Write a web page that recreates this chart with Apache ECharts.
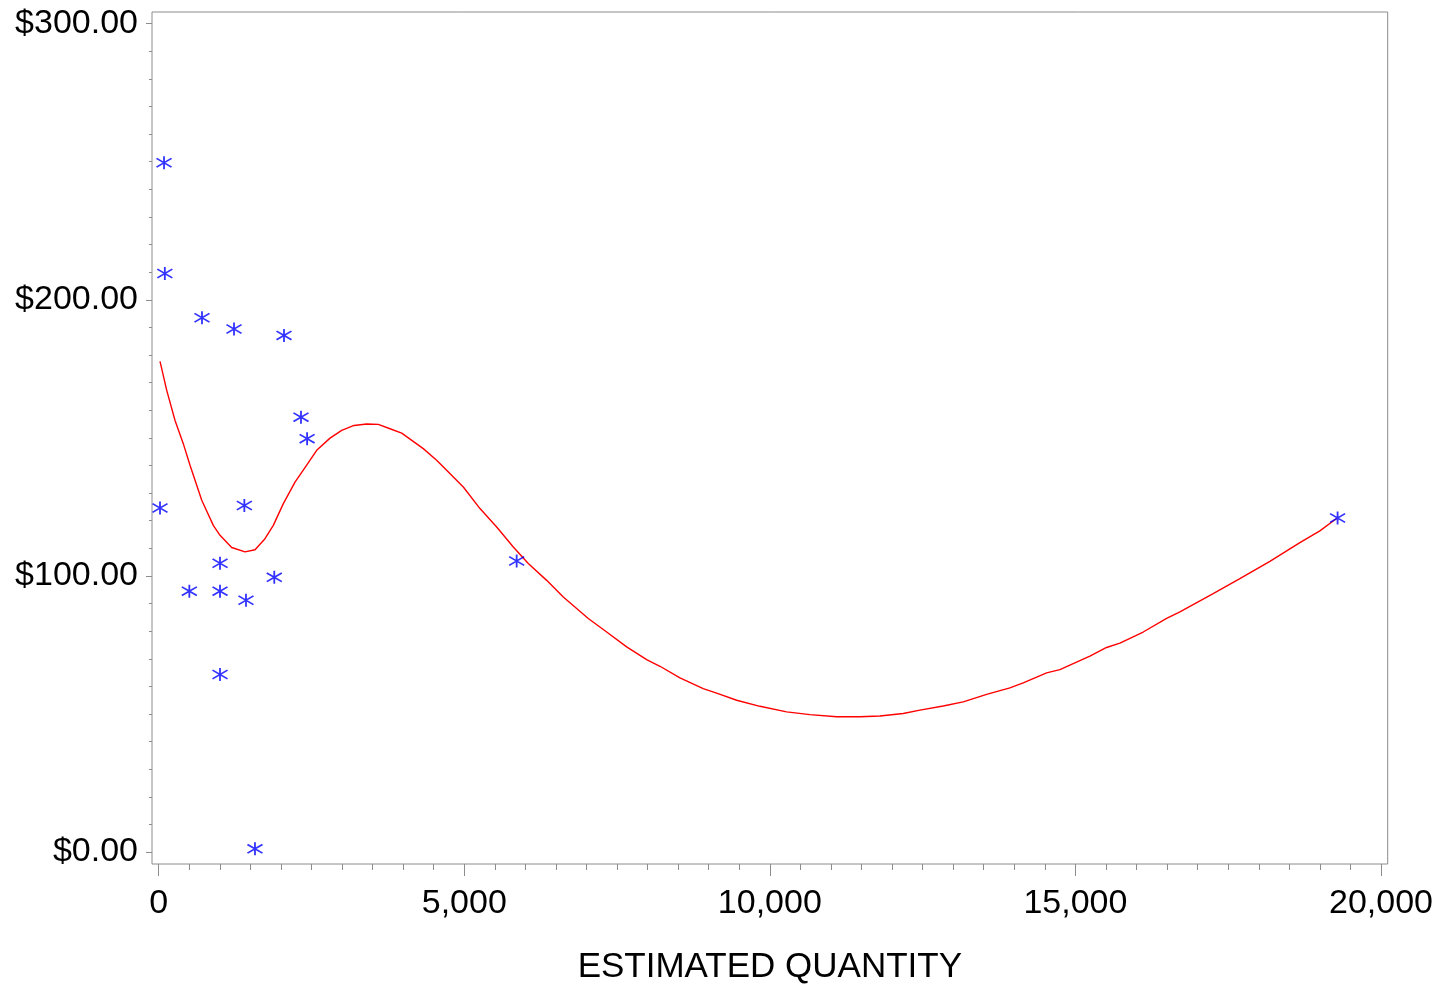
<!DOCTYPE html>
<html>
<head>
<meta charset="utf-8">
<script src="https://cdn.jsdelivr.net/npm/echarts@6/dist/echarts.min.js"></script>
<style>
html,body{margin:0;padding:0;background:#fff;}
#chart{width:1449px;height:984px;}
</style>
</head>
<body>
<div id="chart"></div>
<script>
// Observed points: estimated quantity vs unit price
const pointQty = [87, 100, 708, 1232, 2050, 2328, 2428, 21, 1401, 1003, 501, 1003, 1428, 1891, 1003, 1575, 5857, 19290];
const pointPrice = [249.6, 209.5, 193.5, 189.4, 187.1, 157.5, 149.7, 124.6, 125.5, 104.6, 94.5, 94.5, 91.2, 99.5, 64.3, 1.2, 105.4, 121.0];

// Fitted curve
const curveQty = [21, 131, 267, 402, 512, 704, 893, 1003, 1194, 1412, 1576, 1739, 1875, 2039, 2230, 2421, 2585, 2803, 2994, 3195, 3403, 3593, 3784, 3976, 4329, 4548, 4984, 5257, 5530, 5802, 6047, 6348, 6620, 7029, 7330, 7657, 7984, 8202, 8529, 8910, 9129, 9457, 9838, 10275, 10656, 11093, 11474, 11801, 12182, 12456, 12837, 13164, 13547, 13928, 14146, 14529, 14746, 15237, 15510, 15728, 16109, 16492, 16710, 17254, 17691, 18182, 18673, 19000, 19273];
const curvePrice = [177.7, 167.2, 156.3, 147.9, 140.1, 127.4, 118.3, 114.7, 110.3, 108.7, 109.5, 113.5, 118.3, 126.2, 134.0, 140.1, 145.5, 149.9, 152.7, 154.5, 155.0, 154.9, 153.3, 151.7, 146.1, 141.9, 132.2, 124.4, 117.7, 110.5, 104.5, 98.4, 92.4, 84.6, 79.7, 74.3, 69.7, 67.3, 63.1, 59.2, 57.6, 55.0, 52.8, 50.8, 49.8, 49.0, 49.0, 49.3, 50.2, 51.4, 52.9, 54.4, 57.1, 59.5, 61.3, 64.9, 66.1, 71.0, 74.1, 75.7, 79.7, 84.6, 87.0, 93.6, 99.0, 105.3, 112.1, 116.3, 120.8];

// Tick values
const xMajorTicks = [0, 5000, 10000, 15000, 20000];
const xMinorTicks = [500, 1000, 1500, 2000, 2500, 3000, 3500, 4000, 4500, 5500, 6000, 6500, 7000, 7500, 8000, 8500, 9000, 9500, 10500, 11000, 11500, 12000, 12500, 13000, 13500, 14000, 14500, 15500, 16000, 16500, 17000, 17500, 18000, 18500, 19000, 19500];
const yMajorTicks = [0, 100, 200, 300];
const yMinorTicks = [10, 20, 30, 40, 50, 60, 70, 80, 90, 110, 120, 130, 140, 150, 160, 170, 180, 190, 210, 220, 230, 240, 250, 260, 270, 280, 290];
const xRange = [-110, 20110];
const yRange = [-4.3, 304.2];
const xTitle = 'ESTIMATED QUANTITY';

const FONT = '"Liberation Sans", Arial, sans-serif';
const AXIS_GRAY = '#8c8c8c';

const chart = echarts.init(document.getElementById('chart'), null, {renderer: 'canvas'});

const scatterData = pointQty.map((q, i) => [q, pointPrice[i]]);
const curveData = curveQty.map((q, i) => [q, curvePrice[i]]);

const asterisk = 'path://M7,0L7,12M0,2L14,10M0,10L14,2';

chart.setOption({
  animation: false,
  backgroundColor: '#ffffff',
  grid: {
    left: 152, right: 61.3, top: 12, bottom: 120,
    outerBoundsMode: 'none', containLabel: false,
    show: true, borderColor: AXIS_GRAY, borderWidth: 1, backgroundColor: 'transparent'
  },
  xAxis: [
    {
      type: 'value', position: 'bottom', min: xRange[0], max: xRange[1],
      axisLine: {show: false, onZero: false},
      axisTick: {show: true, inside: false, length: 12, customValues: xMajorTicks, lineStyle: {color: AXIS_GRAY, width: 1}},
      splitLine: {show: false},
      axisLabel: {
        customValues: xMajorTicks,
        margin: 23, color: '#000', fontFamily: FONT, fontSize: 34,
        formatter: v => Number(v).toLocaleString('en-US')
      },
      name: xTitle, nameLocation: 'middle', nameGap: 86,
      nameTextStyle: {color: '#000', fontFamily: FONT, fontSize: 35}
    },
    {
      type: 'value', position: 'bottom', min: xRange[0], max: xRange[1], offset: 0,
      axisLine: {show: false, onZero: false},
      axisTick: {show: true, inside: false, length: 6, customValues: xMinorTicks, lineStyle: {color: AXIS_GRAY, width: 1}},
      splitLine: {show: false},
      axisLabel: {show: false}
    }
  ],
  yAxis: [
    {
      type: 'value', position: 'left', min: yRange[0], max: yRange[1],
      axisLine: {show: false, onZero: false},
      axisTick: {show: true, inside: false, length: 6, customValues: yMajorTicks, lineStyle: {color: AXIS_GRAY, width: 1}},
      splitLine: {show: false},
      axisLabel: {
        customValues: yMajorTicks,
        margin: 14, color: '#000', fontFamily: FONT, fontSize: 34,
        formatter: v => '$' + Number(v).toFixed(2)
      }
    },
    {
      type: 'value', position: 'left', min: yRange[0], max: yRange[1], offset: 0,
      axisLine: {show: false, onZero: false},
      axisTick: {show: true, inside: false, length: 3, customValues: yMinorTicks, lineStyle: {color: AXIS_GRAY, width: 1}},
      splitLine: {show: false},
      axisLabel: {show: false}
    }
  ],
  series: [
    {
      type: 'line', xAxisIndex: 0, yAxisIndex: 0,
      data: curveData, showSymbol: false, symbol: 'none', smooth: false,
      lineStyle: {color: '#ff0000', width: 1.4},
      z: 2
    },
    {
      type: 'scatter', xAxisIndex: 0, yAxisIndex: 0,
      data: scatterData,
      symbol: asterisk, symbolSize: [15, 13],
      itemStyle: {color: 'none', borderColor: '#0000ff', borderWidth: 1.7},
      z: 3
    }
  ]
});
</script>
</body>
</html>
